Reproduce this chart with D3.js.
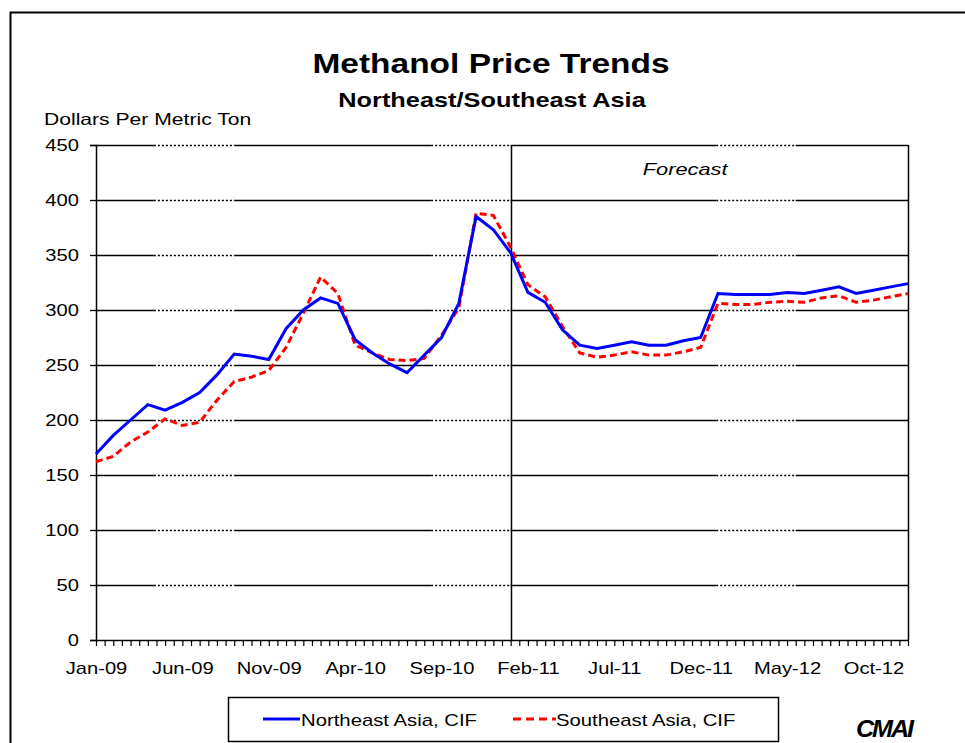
<!DOCTYPE html>
<html><head><meta charset="utf-8">
<script src="https://cdn.jsdelivr.net/npm/d3@7"></script>
<style>body{margin:0;background:#fff}svg{display:block;font-family:"Liberation Sans",Arial,sans-serif}</style>
</head><body><svg id="c" width="965" height="743"></svg>
<script>
const months = ["Jan-09","Feb-09","Mar-09","Apr-09","May-09","Jun-09","Jul-09","Aug-09","Sep-09","Oct-09","Nov-09","Dec-09",
"Jan-10","Feb-10","Mar-10","Apr-10","May-10","Jun-10","Jul-10","Aug-10","Sep-10","Oct-10","Nov-10","Dec-10",
"Jan-11","Feb-11","Mar-11","Apr-11","May-11","Jun-11","Jul-11","Aug-11","Sep-11","Oct-11","Nov-11","Dec-11",
"Jan-12","Feb-12","Mar-12","Apr-12","May-12","Jun-12","Jul-12","Aug-12","Sep-12","Oct-12","Nov-12","Dec-12"];
const northeast = [169,186,200,214,209,216,225,241,260,258,255,283,300,311,306,273,261,251,243,259,275,306,385,373,352,316,307,282,268,265,268,271,268,268,272,275,315,314,314,314,316,315,318,321,315,318,321,324];
const southeast = [162,167,180,189,201,195,198,218,235,239,245,266,297,330,315,268,261,255,254,256,277,302,388,386,357,323,312,285,261,257,259,262,259,259,262,266,306,305,305,307,308,307,311,313,307,309,312,315];
const yTicks = [0,50,100,150,200,250,300,350,400,450];
const labelEvery = 5;
const forecastStart = 24;

const SX = 1.26; // horizontal stretch of the reference's text
const svg = d3.select("#c");
const L = 96, R = 908, T = 145, B = 640;
const x = d3.scaleLinear().domain([0, months.length - 1]).range([L, R]);
const y = d3.scaleLinear().domain([0, 450]).range([B, T]);

function stext(px, py, str, size, opts = {}) {
  const t = svg.append("text").attr("transform", `translate(${px},${py}) scale(${opts.sx || SX},1)`)
    .attr("font-size", size).attr("text-anchor", opts.anchor || "start").text(str);
  if (opts.bold) t.attr("font-weight", "bold");
  if (opts.italic) t.attr("font-style", "italic");
  return t;
}

// outer frame
svg.append("path").attr("d", `M10.5,743 V12.5 H965`).attr("fill","none").attr("stroke","#000").attr("stroke-width",2);

// gridlines: solid with dotted middle segments
const dotted = [[3.35,8.0],[19.4,24.0],[35.9,40.5]];
yTicks.slice(1).forEach(v => {
  const yy = Math.round(y(v)) + 0.5;
  let segs = []; let start = 0;
  dotted.forEach(([a,b]) => { segs.push({a:start,b:a,d:false}); segs.push({a:a,b:b,d:true}); start=b; });
  segs.push({a:start,b:months.length-1,d:false});
  segs.forEach(s => {
    svg.append("line").attr("x1", x(s.a)).attr("x2", x(s.b)).attr("y1", yy).attr("y2", yy)
      .attr("stroke","#000").attr("stroke-width", 1.3)
      .attr("stroke-dasharray", s.d ? "2,2" : null);
  });
});

// right border of plot
svg.append("line").attr("x1", R+0.5).attr("x2", R+0.5).attr("y1", T).attr("y2", B).attr("stroke","#000").attr("stroke-width",1.5);
// forecast divider
svg.append("line").attr("x1", Math.round(x(forecastStart))+0.5).attr("x2", Math.round(x(forecastStart))+0.5)
  .attr("y1", T).attr("y2", B).attr("stroke","#000").attr("stroke-width",1.5);

// y axis
const yAxis = d3.axisLeft(y).tickValues(yTicks).tickSize(6).tickPadding(10);
const gy = svg.append("g").attr("transform", `translate(${L},0)`).call(yAxis);
gy.select(".domain").attr("stroke","#000").attr("stroke-width",1.5);
gy.selectAll(".tick line").attr("stroke","#000").attr("stroke-width",1.3);
gy.selectAll("text").attr("font-size",16).attr("fill","#000").attr("font-family","Liberation Sans, Arial, sans-serif")
  .attr("x", 0).attr("transform", `translate(-17,0) scale(${SX},1)`);

// x axis: minor ticks every half month
const halfTicks = d3.range(0, months.length - 1 + 0.001, 0.5);
const xAxisMinor = d3.axisBottom(x).tickValues(halfTicks).tickSize(6).tickFormat("");
const gx = svg.append("g").attr("transform", `translate(0,${B})`).call(xAxisMinor);
gx.select(".domain").attr("stroke","#000").attr("stroke-width",1.5).attr("d", `M${L},0.5H${R}`);
gx.selectAll(".tick line").attr("stroke","#000").attr("stroke-width",1.2);
const labelIdx = d3.range(0, months.length, labelEvery);
const gxl = svg.append("g").attr("transform", `translate(0,${B})`)
  .call(d3.axisBottom(x).tickValues(labelIdx).tickSize(0).tickPadding(23).tickFormat(i => months[i]));
gxl.select(".domain").remove();
gxl.selectAll("text").attr("font-size",16).attr("fill","#000").attr("font-family","Liberation Sans, Arial, sans-serif")
  .attr("transform", `scale(${SX},1)`);

// lines
const line = d3.line().x((d,i) => x(i)).y(d => y(d));
svg.append("path").datum(southeast).attr("d", line).attr("fill","none").attr("stroke","#ff0000")
  .attr("stroke-width",3).attr("stroke-dasharray","7,4");
svg.append("path").datum(northeast).attr("d", line).attr("fill","none").attr("stroke","#0000ff")
  .attr("stroke-width",3);

// titles
stext(491, 73, "Methanol Price Trends", 27, {anchor:"middle", bold:true, sx:1.24});
stext(492, 107, "Northeast/Southeast Asia", 19.5, {anchor:"middle", bold:true, sx:1.3});
stext(44, 125, "Dollars Per Metric Ton", 16.5, {sx:1.28});
stext(x(34.1), 175, "Forecast", 17, {anchor:"middle", italic:true, sx:1.28});

// legend
svg.append("rect").attr("x",228.5).attr("y",697.5).attr("width",550).attr("height",44)
  .attr("fill","#fff").attr("stroke","#000").attr("stroke-width",1.5);
svg.append("line").attr("x1",263).attr("x2",300).attr("y1",719).attr("y2",719).attr("stroke","#0000ff").attr("stroke-width",3);
stext(301, 726, "Northeast Asia, CIF", 16, {sx:1.27});
svg.append("line").attr("x1",513).attr("x2",556).attr("y1",719).attr("y2",719).attr("stroke","#ff0000")
  .attr("stroke-width",3).attr("stroke-dasharray","8,5");
stext(556, 726, "Southeast Asia, CIF", 16, {sx:1.27});

// logo
stext(884, 737, "CMAI", 24, {anchor:"middle", bold:true, italic:true, sx:1.05}).attr("letter-spacing",-2);
</script></body></html>
